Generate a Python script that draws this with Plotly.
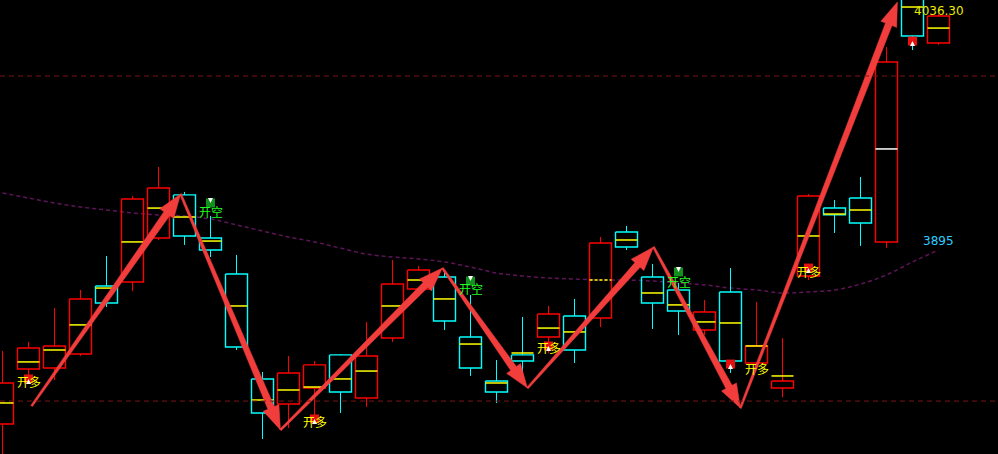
import math
import plotly.graph_objects as go

# ------------------------------------------------------------------
# Data (prices)
# ------------------------------------------------------------------

OPEN = [3794.6, 3826.0, 3826.5, 3834.5, 3873.3, 3875.6, 3900.6, 3925.2, 3900.6, 3880.1,
        3820.3, 3806.0, 3815.1, 3834.0, 3809.4, 3843.6, 3871.6, 3878.4, 3844.2, 3819.1,
        3834.0, 3844.2, 3856.2, 3855.0, 3904.1, 3878.4, 3871.0, 3848.2, 3869.9, 3829.4,
        3815.1, 3879.0, 3917.7, 3923.4, 3898.4, 4040.9, 4011.8]
HIGH = [3836.2, 3841.4, 3860.7, 3871.0, 3890.4, 3924.6, 3941.1, 3926.9, 3913.2, 3891.0,
        3824.3, 3833.4, 3830.5, 3834.5, 3852.8, 3888.1, 3884.7, 3881.8, 3868.2, 3831.1,
        3855.6, 3861.9, 3865.9, 3901.2, 3907.5, 3885.8, 3875.0, 3865.3, 3883.5, 3864.2,
        3843.6, 3925.7, 3922.3, 3935.4, 4009.5, 4044.9, 4028.3]
LOW = [3768.4, 3819.7, 3819.7, 3833.4, 3861.3, 3870.4, 3899.5, 3896.7, 3889.8, 3836.8,
       3786.1, 3792.3, 3795.2, 3800.9, 3804.3, 3841.4, 3869.9, 3848.2, 3822.0, 3806.6,
       3819.7, 3835.1, 3829.4, 3849.9, 3893.8, 3848.8, 3845.4, 3845.4, 3823.7, 3827.7,
       3810.0, 3876.7, 3903.5, 3896.1, 3895.0, 4007.8, 4010.7]
CLOSE = [3818.0, 3837.9, 3839.1, 3865.9, 3863.6, 3922.9, 3929.1, 3901.8, 3893.8, 3838.5,
         3800.9, 3823.7, 3828.3, 3812.9, 3833.4, 3874.4, 3882.4, 3853.3, 3826.5, 3812.9,
         3830.5, 3857.3, 3836.8, 3897.8, 3895.5, 3863.6, 3859.0, 3858.5, 3830.5, 3839.1,
         3819.1, 3924.6, 3913.8, 3909.2, 4001.0, 4015.8, 4027.2]
# average-price tick drawn across each candle
AVG = [3806.6, 3830.0, 3836.8, 3851.1, 3872.1, 3898.4, 3917.7, 3912.6, 3898.9, 3861.9,
       3808.3, 3814.0, 3815.7, 3820.3, 3824.8, 3861.9, 3876.7, 3865.9, 3840.2, 3818.0,
       3835.1, 3849.3, 3847.1, 3876.7, 3899.5, 3869.3, 3862.5, 3852.8, 3852.2, 3839.1,
       3822.0, 3901.8, 3914.3, 3916.6, 3951.4, 4032.3, 4020.3]
MA = [3926.3, 3923.4, 3920.6, 3918.3, 3916.6, 3914.9, 3913.8, 3913.2, 3911.5, 3908.1,
      3904.6, 3901.2, 3898.4, 3894.9, 3891.5, 3889.8, 3888.7, 3887.0, 3884.1, 3880.7,
      3879.0, 3877.8, 3877.3, 3876.7, 3876.7, 3876.1, 3875.0, 3873.9, 3872.1, 3871.0,
      3869.3, 3869.9, 3871.0, 3874.4, 3879.6, 3887.0, 3893.8]

LEVELS = [3993.0, 3807.7]

# zigzag swing points (bar index, price)
SWING_X = [1.12, 6.85, 10.69, 16.92, 20.19, 25.04, 28.38, 34.42]
SWING_P = [3804.9, 3925.7, 3791.2, 3883.5, 3815.1, 3895.5, 3803.7, 4035.2]

# signal texts
SIG_BAR = [1, 8, 12, 18, 21, 26, 29, 31]
SIG_TEXT = ['开多', '开空', '开多', '开空', '开多', '开空', '开多', '开多']
SIG_PRICE = [3819.1, 3916.0, 3796.3, 3871.6, 3838.5, 3876.1, 3826.5, 3881.8]

# signal badges
MARK_BAR = [1, 8, 12, 18, 21, 26, 28, 31, 35]
MARK_SIDE = ['buy', 'sell', 'buy', 'sell', 'buy', 'sell', 'buy', 'buy', 'buy']
MARK_PRICE = [3820.3, 3920.6, 3797.5, 3876.1, 3839.1, 3881.3, 3828.8, 3883.5, 4012.9]

TOP_LABEL = '4036.30'
TOP_LABEL_POS = (36, 4030.0)
MA_LABEL = '3895'
MA_LABEL_POS = (36, 3898.9)

# ------------------------------------------------------------------
# Geometry / style
# ------------------------------------------------------------------

W, H = 998, 454
PX_PER_BAR = 26
X0_PX = 2.5          # half-pixel offset keeps 1px verticals crisp
P_TOP = 4036.3
P_PER_PX = 0.57
X_RANGE = [-X0_PX / PX_PER_BAR, (W - X0_PX) / PX_PER_BAR]
Y_RANGE = [P_TOP - P_PER_PX * H, P_TOP]

UP = '#ff0000'
DOWN = '#00ffff'
YELLOW = '#ffff00'
ARROW = '#f23d3d'
HALF = 11 / PX_PER_BAR


def to_px(i, p):
    return X0_PX + i * PX_PER_BAR, (P_TOP - p) / P_PER_PX


def from_px(x, y):
    return (x - X0_PX) / PX_PER_BAR, P_TOP - y * P_PER_PX


def arrow_polygon(s, e, w0=2.0, w1=7.0, head_len=24.0, head_half=8.5):
    (sx, sy), (ex, ey) = to_px(*s), to_px(*e)
    dx, dy = ex - sx, ey - sy
    ln = math.hypot(dx, dy)
    ux, uy = dx / ln, dy / ln
    nx, ny = -uy, ux
    bx, by = ex - ux * head_len, ey - uy * head_len
    pts = [
        (sx + nx * w0 / 2, sy + ny * w0 / 2),
        (bx + nx * w1 / 2, by + ny * w1 / 2),
        (bx + nx * head_half, by + ny * head_half),
        (ex, ey),
        (bx - nx * head_half, by - ny * head_half),
        (bx - nx * w1 / 2, by - ny * w1 / 2),
        (sx - nx * w0 / 2, sy - ny * w0 / 2),
    ]
    pts.append(pts[0])
    data = [from_px(x, y) for x, y in pts]
    return [d[0] for d in data], [d[1] for d in data]


fig = go.Figure()
idx = list(range(len(OPEN)))

# moving average
fig.add_trace(go.Scatter(
    x=idx, y=MA, mode='lines', line=dict(color='#5e1458', width=1.5, dash='4px,3px'),
    line_shape='spline', hoverinfo='skip',
))

# horizontal levels
for lv in LEVELS:
    fig.add_hline(y=lv, line=dict(color='#7c1414', width=1, dash='5px,4px'))

# candles: wicks, then hollow bodies as outline paths
for color, up in ((UP, True), (DOWN, False)):
    wx, wy, bx_, by_ = [], [], [], []
    for i in idx:
        if (CLOSE[i] >= OPEN[i]) != up:
            continue
        top, bot = max(OPEN[i], CLOSE[i]), min(OPEN[i], CLOSE[i])
        l, r = i - HALF, i + HALF
        wx += [i, i, None, i, i, None]
        wy += [HIGH[i], top, None, bot, LOW[i], None]
        bx_ += [l, r, r, l, l, None]
        by_ += [top, top, bot, bot, top, None]
    fig.add_trace(go.Scatter(x=wx, y=wy, mode='lines',
                             line=dict(color=color, width=1), hoverinfo='skip'))
    fig.add_trace(go.Scatter(x=bx_, y=by_, mode='lines',
                             line=dict(color=color, width=1.4), hoverinfo='skip'))

# avg ticks
for style in ('plain', 'white', 'dash'):
    tx, ty = [], []
    for i in idx:
        s = 'white' if i == 34 else ('dash' if i == 23 else 'plain')
        if s != style:
            continue
        tx += [i - HALF, i + HALF, None]
        ty += [AVG[i], AVG[i], None]
    fig.add_trace(go.Scatter(
        x=tx, y=ty, mode='lines', hoverinfo='skip',
        line=dict(color='#ffffff' if style == 'white' else YELLOW, width=1.5,
                  dash='3px,2px' if style == 'dash' else 'solid'),
    ))

# zigzag arrows
for k in range(len(SWING_X) - 1):
    ax_, ay_ = arrow_polygon((SWING_X[k], SWING_P[k]), (SWING_X[k + 1], SWING_P[k + 1]))
    fig.add_trace(go.Scatter(x=ax_, y=ay_, mode='lines', fill='toself',
                             fillcolor=ARROW, line=dict(color=ARROW, width=0.5),
                             hoverinfo='skip'))

# signal text
for b, t, p in zip(SIG_BAR, SIG_TEXT, SIG_PRICE):
    fig.add_annotation(
        x=b, y=p, text=t, showarrow=False, xanchor='center', yanchor='middle',
        font=dict(family='Noto Sans CJK SC', size=12,
                  color=YELLOW if t == '开多' else '#22ff22'),
    )

# badges
for side, bg, sym in (('buy', '#e61010', 'arrow-up'), ('sell', '#12901e', 'arrow-down')):
    mx = [b for b, s in zip(MARK_BAR, MARK_SIDE) if s == side]
    my = [p for p, s in zip(MARK_PRICE, MARK_SIDE) if s == side]
    fig.add_trace(go.Scatter(x=mx, y=my, mode='markers', hoverinfo='skip',
                             marker=dict(symbol='square', size=9, color=bg)))
    fig.add_trace(go.Scatter(x=mx, y=my, mode='markers', hoverinfo='skip',
                             marker=dict(symbol=sym, size=5, color='#ffffff')))

fig.add_annotation(x=TOP_LABEL_POS[0], y=TOP_LABEL_POS[1], text=TOP_LABEL, showarrow=False,
                   font=dict(family='DejaVu Sans', size=12, color='#e8e800'))
fig.add_annotation(x=MA_LABEL_POS[0], y=MA_LABEL_POS[1], text=MA_LABEL, showarrow=False,
                   font=dict(family='DejaVu Sans', size=12, color='#2ccfff'))

fig.update_layout(
    width=W, height=H, autosize=False,
    margin=dict(l=0, r=0, t=0, b=0, pad=0),
    paper_bgcolor='#000000', plot_bgcolor='#000000',
    showlegend=False,
    xaxis=dict(range=X_RANGE, visible=False, fixedrange=True),
    yaxis=dict(range=Y_RANGE, visible=False, fixedrange=True),
)

fig.write_html('out.html', config={'displayModeBar': False},
               post_script="document.body.style.margin='0';")
